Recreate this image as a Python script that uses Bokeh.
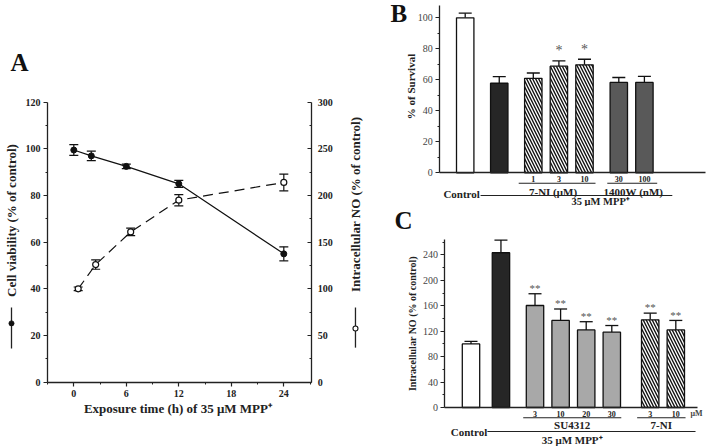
import math
from bokeh.plotting import figure
from bokeh.models import (Range1d, LinearAxis, FixedTicker, Whisker, TeeHead,
                          ColumnDataSource)
from bokeh.layouts import row, column
from bokeh.embed import file_html
from bokeh.resources import INLINE
from bokeh.core.properties import value

FONT = "Liberation Serif"

# ---------------- Panel A data ----------------
time_via = [0, 2, 6, 12, 24]
viability = [99.5, 97.0, 92.5, 85.0, 55.0]
viability_err = [2.3, 2.0, 1.0, 1.5, 3.0]
time_no = [0.5, 2.5, 6.5, 12, 24]
no_level = [100, 126, 161, 195, 214]
no_err = [2, 5, 4, 6, 9]
a_xticks = [0, 6, 12, 18, 24]
a_xminor = [-3, 3, 9, 15, 21, 27]
a_yticks = [0, 20, 40, 60, 80, 100, 120]
a_yminor = [10, 30, 50, 70, 90, 110]
a_y2ticks = [0, 50, 100, 150, 200, 250, 300]
a_y2minor = [25, 75, 125, 175, 225, 275]

# ---------------- Panel B data ----------------
b_pos = [0, 1.33, 2.66, 3.66, 4.66, 6.0, 7.0]
b_vals = [100, 57.8, 61.0, 68.8, 69.7, 58.3, 58.3]
b_err = [3.0, 4.3, 3.4, 3.4, 3.6, 3.2, 3.9]
b_dose = ["", "", "1", "3", "10", "30", "100"]
b_stars = ["", "", "", "*", "*", "", ""]
b_yticks = [0, 20, 40, 60, 80, 100]
b_yminor = [10, 30, 50, 70, 90]
b_fill = ["white", "#262626", "white", "white", "white", "#595959", "#595959"]
b_hatch = [" ", " ", "\\", "\\", "\\", " ", " "]

# ---------------- Panel C data ----------------
c_pos = [0, 1.17, 2.5, 3.5, 4.5, 5.5, 7.0, 8.0]
c_vals = [100, 243.5, 160.5, 137, 122, 118.5, 138, 122]
c_err = [4, 20, 18.5, 18, 13, 10.5, 10.5, 15]
c_dose = ["", "", "3", "10", "20", "30", "3", "10"]
c_stars = ["", "", "**", "**", "**", "**", "**", "**"]
c_yticks = [0, 40, 80, 120, 160, 200, 240]
c_yminor = [20, 60, 100, 140, 180, 220, 260]
c_fill = ["white", "#262626", "#a8a8a8", "#a8a8a8", "#a8a8a8", "#a8a8a8", "white", "white"]
c_hatch = [" ", " ", " ", " ", " ", " ", "\\", "\\"]


def make_axis(loc, ticks, minor, bounds, size="10px", bold=True, color="#222",
              tick_in=0, tick_out=4, standoff=4, **kw):
    ax = LinearAxis(fixed_location=loc, ticker=FixedTicker(ticks=ticks, minor_ticks=minor),
                    bounds=bounds, **kw)
    ax.axis_line_color = "#222"
    ax.axis_line_width = 1.3
    ax.major_tick_line_color = "#222"
    ax.minor_tick_line_color = "#222"
    ax.major_tick_line_width = 1.2
    ax.minor_tick_line_width = 1.0
    ax.major_tick_in = tick_in
    ax.major_tick_out = tick_out
    ax.minor_tick_in = 2 if tick_in else 0
    ax.minor_tick_out = 2 if tick_out else 0
    ax.major_label_text_font = FONT
    ax.major_label_text_font_size = size
    ax.major_label_text_font_style = "bold" if bold else "normal"
    ax.major_label_text_color = color
    ax.major_label_standoff = standoff
    return ax


def add_text(p, xs, ys, texts, size, bold=True, color="#222", angle=0.0, align="center",
             **kw):
    p.text(x=xs, y=ys, text=texts, angle=angle, text_font=value(FONT), text_font_size=size,
           text_font_style="bold" if bold else "normal", text_color=color,
           text_align=align, text_baseline="middle", **kw)


def base_fig(width, height, xr, yr):
    p = figure(width=width, height=height, x_range=Range1d(*xr), y_range=Range1d(*yr),
               x_axis_type=None, y_axis_type=None, output_backend="svg",
               toolbar_location=None, min_border_left=0, min_border_right=0,
               min_border_top=0, min_border_bottom=0)
    p.outline_line_color = None
    p.xgrid.visible = False
    p.ygrid.visible = False
    return p


# ====================== Panel A ======================
pa = base_fig(380, 447, (-8.377, 35.05), (-28.0, 163.6))
pa.extra_y_ranges = {"no": Range1d(-70.0, 409.0)}

pa.add_layout(make_axis(-3, a_yticks, a_yminor, (0, 120), standoff=3), "left")
pa.add_layout(make_axis(0, a_xticks, a_xminor, (-3, 27.2), standoff=4), "below")
pa.add_layout(make_axis(27.2, a_y2ticks, a_y2minor, (0, 300), tick_in=4, tick_out=0,
                        standoff=6, y_range_name="no"), "right")

src_via = ColumnDataSource(dict(x=time_via, y=viability,
                                lo=[v - e for v, e in zip(viability, viability_err)],
                                hi=[v + e for v, e in zip(viability, viability_err)]))
src_no = ColumnDataSource(dict(x=time_no, y=no_level,
                               lo=[v - e for v, e in zip(no_level, no_err)],
                               hi=[v + e for v, e in zip(no_level, no_err)]))

pa.line("x", "y", source=src_via, line_color="#111", line_width=1.2)
pa.line("x", "y", source=src_no, y_range_name="no", line_color="#111", line_width=1.2,
        line_dash="10 6")
for s, rn in ((src_via, "default"), (src_no, "no")):
    pa.add_layout(Whisker(base="x", lower="lo", upper="hi", source=s, y_range_name=rn,
                          line_width=1.2, line_color="#111",
                          upper_head=TeeHead(size=9, line_width=1.2, line_color="#111"),
                          lower_head=TeeHead(size=9, line_width=1.2, line_color="#111")))
pa.scatter("x", "y", source=src_via, size=6, fill_color="#111", line_color="#111")
pa.scatter("x", "y", source=src_no, y_range_name="no", size=6, fill_color="white",
           line_color="#111", line_width=1.2)

# panel letter, axis titles and their legend keys
add_text(pa, [-6.2], [137.2], ["A"], "25px", color="#111")
add_text(pa, [11.9], [-11.1], ["Exposure time (h) of 35 \u03bcM MPP\u207a"], "13px")
add_text(pa, [-7.12, 32.19], [69.3, 76.2],
         ["Cell viability (% of control)", "Intracellular NO (% of control)"], "13px",
         angle=math.pi / 2)
pa.segment(x0=[-7.12, 32.19], y0=[32.0, 32.0], x1=[-7.12, 32.19], y1=[14.4, 14.8],
           line_color="#222", line_width=1.3)
pa.scatter(x=[-7.12], y=[25.2], size=5, fill_color="#111", line_color="#111")
pa.scatter(x=[32.19], y=[23.0], size=5, fill_color="white", line_color="#111",
           line_width=1.1)


def bar_panel(width, height, xr, yr, yaxis_x, ybounds, xbounds, yticks, yminor, pos, vals,
              err, fill, hatch):
    p = base_fig(width, height, xr, yr)
    p.add_layout(make_axis(yaxis_x, yticks, yminor, ybounds, bold=False, color="#444",
                           standoff=3), "left")
    p.add_layout(make_axis(0, [], [], xbounds, tick_out=0, size="0px"), "below")
    src = ColumnDataSource(dict(x=pos, top=vals, fill=fill, hatch=hatch,
                                upper=[v + e for v, e in zip(vals, err)]))
    p.vbar(x="x", top="top", bottom=0, width=0.68, source=src, fill_color="fill",
           line_color="#111", line_width=1.3, hatch_pattern="hatch", hatch_color="#111",
           hatch_weight=1.4, hatch_scale=6)
    p.add_layout(Whisker(base="x", lower="top", upper="upper", source=src, line_width=1.3,
                         line_color="#111",
                         upper_head=TeeHead(size=13, line_width=1.3, line_color="#111"),
                         lower_head=None))
    return p


# ====================== Panel B ======================
pb = bar_panel(329, 206, (-3.309, 9.543), (-21.74, 111.2), -0.99, (0, 108), (-0.99, 9.39),
               b_yticks, b_yminor, b_pos, b_vals, b_err, b_fill, b_hatch)
add_text(pb, b_pos, [v + e + 6.5 for v, e in zip(b_vals, b_err)], b_stars, "14px",
         bold=False, color="#555")
add_text(pb, b_pos, [-4.0] * len(b_pos), b_dose, "8px")
pb.segment(x0=[min(b_pos[2:5]) - 0.57, min(b_pos[5:7]) - 0.45, 0.6],
           y0=[-6.7, -6.7, -14.6],
           x1=[max(b_pos[2:5]) + 0.43, max(b_pos[5:7]) + 0.5, 8.09],
           y1=[-6.7, -6.7, -14.6], line_color="#222", line_width=1.1)
add_text(pb, [3.43, 6.57, -0.14], [-12.3, -12.3, -13.6],
         ["7-NI (\u03bcM)", "1400W (nM)", "Control"], "11px")
add_text(pb, [5.29], [-18.4], ["35 \u03bcM MPP\u207a"], "10.5px")
add_text(pb, [-2.59], [103.1], ["B"], "25px", color="#111")
add_text(pb, [-2.10], [55.7], ["% of Survival"], "11px", angle=math.pi / 2)

# ====================== Panel C ======================
pc = bar_panel(329, 241, (-3.535, 9.316), (-62.95, 316.3), -1.02, (0, 265), (-1.02, 8.85),
               c_yticks, c_yminor, c_pos, c_vals, c_err, c_fill, c_hatch)
add_text(pc, c_pos, [v + e + 9 for v, e in zip(c_vals, c_err)], c_stars, "11px",
         bold=False, color="#555")
add_text(pc, c_pos, [-9.9] * len(c_pos), c_dose, "8px")
add_text(pc, [8.57], [-9.4], ["\u03bcM"], "8px", color="#444", align="left")
pc.segment(x0=[min(c_pos[2:6]) - 0.46, min(c_pos[6:8]) - 0.51, 0.64],
           y0=[-16.2, -16.2, -37.8],
           x1=[max(c_pos[2:6]) + 0.37, max(c_pos[6:8]) + 0.38, 8.77],
           y1=[-16.2, -16.2, -37.8], line_color="#222", line_width=1.1)
add_text(pc, [3.95, 7.43, -0.08, 3.95], [-27.2, -27.2, -37.8, -51.9],
         ["SU4312", "7-NI", "Control", "35 \u03bcM MPP\u207a"], "11px")
add_text(pc, [-2.64], [294.3], ["C"], "25px", color="#111")
add_text(pc, [-2.27], [133.8], ["Intracellular NO (%  of control)"], "10px",
         angle=math.pi / 2)

layout = row(pa, column(pb, pc))
open("out.html", "w").write(file_html(layout, INLINE))
